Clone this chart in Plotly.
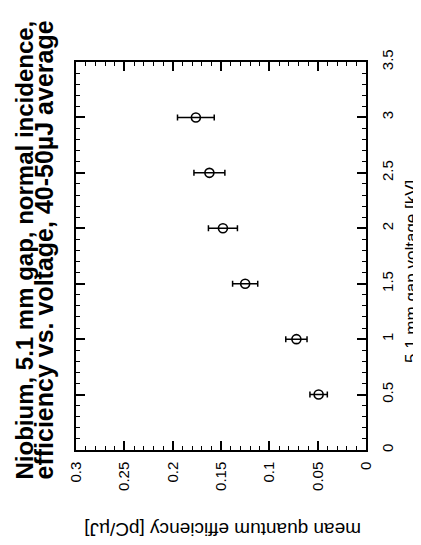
import plotly.graph_objects as go

# Data read from the (rotated) reference
voltage_kv = [0.5, 1.0, 1.5, 2.0, 2.5, 3.0]
efficiency = [0.049, 0.072, 0.125, 0.148, 0.162, 0.176]
eff_error = [0.009, 0.011, 0.013, 0.015, 0.016, 0.019]

eff_range = [0.3, 0]          # efficiency axis runs right-to-left
eff_major, eff_minor = 0.05, 0.01
volt_range = [0, 3.5]
volt_major, volt_minor = 0.5, 0.1

title_line1 = "Niobium, 5.1 mm gap, normal incidence,"
title_line2 = "efficiency vs. voltage, 40-50\u00b5J average"
x_title = "mean quantum efficiency [pC/\u00b5J]"
y_title = "5.1 mm gap voltage [kV]"

# the page body has an 8px default margin, so the figure is sized to fit the window
OFF = 8
W, H = 421 - OFF, 545 - OFF
L, R, T, B = 68, 55, 54, 95
PW, PH = W - L - R, H - T - B

def px_x(page_px):
    return (page_px - OFF - L) / PW

def px_y(page_py):
    return (H - B - (page_py - OFF)) / PH

FONT = "Liberation Sans, Arial, Helvetica, sans-serif"

fig = go.Figure()
fig.add_trace(go.Scatter(
    x=efficiency, y=voltage_kv, mode="markers",
    marker=dict(symbol="circle-open", size=9, color="black", line=dict(width=1.6, color="black")),
    error_x=dict(type="data", array=eff_error, visible=True, color="black", thickness=1.5, width=3),
    showlegend=False,
))
# invisible trace that carries the overlay axes used for the minor ticks
fig.add_trace(go.Scatter(x=efficiency, y=voltage_kv, xaxis="x2", yaxis="y2",
                         mode="markers", marker=dict(opacity=0), hoverinfo="skip",
                         showlegend=False))

axis_common = dict(
    showline=True, linecolor="black", linewidth=1.5, mirror="allticks",
    ticks="inside", ticklen=9, tickwidth=1.5, tickcolor="black",
    showgrid=False, zeroline=False, tickmode="linear", tick0=0, automargin=False,
    tickfont=dict(family=FONT, size=15, color="black"),
)
minor_common = dict(
    showline=False, mirror="allticks", ticks="inside", ticklen=4, tickwidth=1.2,
    tickcolor="black", showgrid=False, zeroline=False, showticklabels=False,
    tickmode="linear", tick0=0, automargin=False,
)

fig.update_layout(
    template="none",
    width=W, height=H,
    margin=dict(l=L, r=R, t=T, b=B),
    paper_bgcolor="white", plot_bgcolor="white",
    xaxis=dict(range=eff_range, dtick=eff_major, tickangle=-90, ticklabelstandoff=4,
               **axis_common),
    yaxis=dict(range=volt_range, dtick=volt_major, side="right", tickangle=-90,
               ticklabelstandoff=7, **axis_common),
    xaxis2=dict(range=eff_range, dtick=eff_minor, overlaying="x", side="bottom",
                anchor="y2", **minor_common),
    yaxis2=dict(range=volt_range, dtick=volt_minor, overlaying="y", side="right",
                anchor="x2", **minor_common),
)

fig.add_annotation(text="<b>" + title_line1 + "</b>", xref="paper", yref="paper",
                   x=px_x(24), y=px_y(482), xanchor="center", yanchor="bottom",
                   textangle=-90, showarrow=False,
                   font=dict(family=FONT, size=24, color="black"))
fig.add_annotation(text="<b>" + title_line2 + "</b>", xref="paper", yref="paper",
                   x=px_x(43), y=px_y(482), xanchor="center", yanchor="bottom",
                   textangle=-90, showarrow=False,
                   font=dict(family=FONT, size=25, color="black"))
fig.add_annotation(text=x_title, xref="paper", yref="paper",
                   x=px_x(223), y=px_y(530), xanchor="center", yanchor="middle",
                   textangle=180, showarrow=False,
                   font=dict(family=FONT, size=19, color="black"))
fig.add_annotation(text=y_title, xref="paper", yref="paper",
                   x=px_x(411), y=px_y(272), xanchor="center", yanchor="middle",
                   textangle=-90, showarrow=False,
                   font=dict(family=FONT, size=17, color="black"))

fig.write_html("out.html")
